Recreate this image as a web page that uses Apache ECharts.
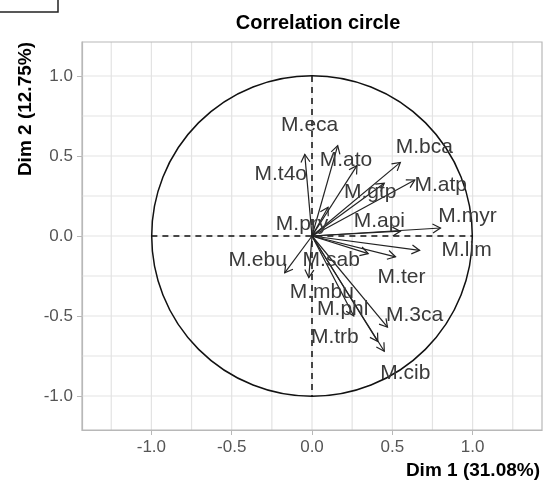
<!DOCTYPE html>
<html>
<head>
<meta charset="utf-8">
<script src="https://cdn.jsdelivr.net/npm/echarts@6/dist/echarts.min.js"></script>
<style>
  html, body { margin: 0; padding: 0; background: #fff; }
  #chart { width: 544px; height: 490px; }
</style>
</head>
<body>
<div id="chart"></div>
<script>
// variables du cercle des corrélations
var varNames = ["M.eca", "M.t4o", "M.ato", "M.bca", "M.gtp", "M.atp", "M.pry", "M.api", "M.myr",
                "M.lim", "M.ebu", "M.sab", "M.ter", "M.mbu", "M.phl", "M.3ca", "M.trb", "M.cib"];
var dim1 = [0.16, -0.045, 0.28, 0.55, 0.45, 0.64, 0.10, 0.55, 0.80,
            0.67, -0.17, 0.35, 0.52, -0.02, 0.26, 0.47, 0.41, 0.45];
var dim2 = [0.565, 0.51, 0.44, 0.46, 0.33, 0.35, 0.18, 0.03, 0.05,
            -0.09, -0.23, -0.11, -0.13, -0.26, -0.50, -0.57, -0.66, -0.72];

// graduations
var tickValues = [-1.0, -0.5, 0.0, 0.5, 1.0];
var gridValues = [-1.25, -1.0, -0.75, -0.5, -0.25, 0, 0.25, 0.5, 0.75, 1.0, 1.25];

// décalage des étiquettes (px) par rapport à la pointe, façon ggrepel
var labelShift = {
  "M.eca": [-28, -20], "M.t4o": [-24, 20], "M.ato": [-11, -5], "M.bca": [24, -15],
  "M.gtp": [-14, 9], "M.atp": [26, 5], "M.pry": [-26, 17], "M.api": [-21, -10],
  "M.myr": [27, -12], "M.lim": [47, 0], "M.ebu": [-27, -13], "M.sab": [-37, 7],
  "M.ter": [6, 20], "M.mbu": [13, 15], "M.phl": [-11, -7], "M.3ca": [27, -12],
  "M.trb": [-43, -4], "M.cib": [21, 22]
};

var X_MAX = 1.432, Y_MAX = 1.2125;
var GRID_C = "#e3e3e3";
var FONT = "Liberation Sans";

var arrows = varNames.map(function (n, i) { return [dim1[i], dim2[i], n]; });

var chart = echarts.init(document.getElementById("chart"));

chart.setOption({
  animation: false,
  title: {
    text: "Correlation circle",
    left: 313, top: 8, textAlign: "center",
    textStyle: { fontFamily: FONT, fontSize: 20, fontWeight: "bold", color: "#000" }
  },
  grid: { left: 82, right: 2, top: 42, bottom: 60 },
  xAxis: {
    type: "value", min: -X_MAX, max: X_MAX,
    name: "Dim 1 (31.08%)", nameLocation: "end", nameGap: 0,
    nameTextStyle: { fontFamily: FONT, fontSize: 19, fontWeight: "bold", color: "#000",
                     align: "right", verticalAlign: "top", padding: [31, 2, 0, 0] },
    axisLine: { show: true, onZero: false, lineStyle: { color: "#b8b8b8", width: 1.2 } },
    axisTick: { show: true, length: 5, customValues: tickValues, lineStyle: { color: "#b8b8b8" } },
    axisLabel: { customValues: tickValues, margin: 9, color: "#555", fontSize: 17, fontFamily: FONT,
                 formatter: function (v) { return v.toFixed(1); } },
    splitLine: { show: false }
  },
  yAxis: {
    type: "value", min: -Y_MAX, max: Y_MAX,
    name: "Dim 2 (12.75%)", nameLocation: "end", nameRotate: 90, nameGap: 0,
    nameTextStyle: { fontFamily: FONT, fontSize: 19, fontWeight: "bold", color: "#000",
                     align: "right", verticalAlign: "bottom", padding: [0, 0, 47, 0] },
    axisLine: { show: true, onZero: false, lineStyle: { color: "#b8b8b8", width: 1.2 } },
    axisTick: { show: true, length: 5, customValues: tickValues, lineStyle: { color: "#b8b8b8" } },
    axisLabel: { customValues: tickValues, margin: 9, color: "#555", fontSize: 17, fontFamily: FONT,
                 formatter: function (v) { return v.toFixed(1); } },
    splitLine: { show: false }
  },
  graphic: [
    // petit cadre résiduel en haut à gauche
    { type: "polyline", shape: { points: [[0, 12], [58, 12], [58, 0]] },
      style: { stroke: "#222", lineWidth: 1.5, fill: null } }
  ],
  series: [
    {
      // quadrillage + cadre du panneau
      type: "custom", silent: true, z: 1,
      data: [0],
      renderItem: function (params, api) {
        var kids = [];
        gridValues.forEach(function (v) {
          var a = api.coord([v, -Y_MAX]), b = api.coord([v, Y_MAX]);
          kids.push({ type: "line", shape: { x1: a[0], y1: a[1], x2: b[0], y2: b[1] },
                      style: { stroke: GRID_C, lineWidth: 1.2 } });
          var c = api.coord([-X_MAX, v]), d = api.coord([X_MAX, v]);
          if (Math.abs(v) < Y_MAX)
            kids.push({ type: "line", shape: { x1: c[0], y1: c[1], x2: d[0], y2: d[1] },
                        style: { stroke: GRID_C, lineWidth: 1.2 } });
        });
        var tl = api.coord([-X_MAX, Y_MAX]), br = api.coord([X_MAX, -Y_MAX]);
        kids.push({ type: "rect", shape: { x: tl[0], y: tl[1], width: br[0] - tl[0], height: br[1] - tl[1] },
                    style: { stroke: "#b8b8b8", fill: null, lineWidth: 1.2 } });
        return { type: "group", children: kids };
      }
    },
    {
      // cercle unité et axes en pointillés
      type: "custom", silent: true, z: 2,
      data: [0],
      renderItem: function (params, api) {
        var c = api.coord([0, 0]);
        var r = api.size([1, 1]);
        var l = api.coord([-1, 0]), rr = api.coord([1, 0]);
        var t = api.coord([0, 1]), b = api.coord([0, -1]);
        return { type: "group", children: [
          { type: "circle", shape: { cx: c[0], cy: c[1], r: (r[0] + r[1]) / 2 },
            style: { stroke: "#111", fill: null, lineWidth: 1.5 } },
          { type: "line", shape: { x1: l[0], y1: l[1], x2: rr[0], y2: rr[1] },
            style: { stroke: "#111", lineWidth: 1.5, lineDash: [6, 5] } },
          { type: "line", shape: { x1: t[0], y1: t[1], x2: b[0], y2: b[1] },
            style: { stroke: "#111", lineWidth: 1.5, lineDash: [6, 5] } }
        ] };
      }
    },
    {
      // flèches des variables
      type: "custom", silent: true, z: 3,
      data: arrows,
      renderItem: function (params, api) {
        var o = api.coord([0, 0]);
        var p = api.coord([api.value(0), api.value(1)]);
        var ang = Math.atan2(p[1] - o[1], p[0] - o[0]);
        var L = 9, A = Math.PI / 6;
        var h1 = [p[0] - L * Math.cos(ang - A), p[1] - L * Math.sin(ang - A)];
        var h2 = [p[0] - L * Math.cos(ang + A), p[1] - L * Math.sin(ang + A)];
        var name = varNames[params.dataIndex];
        var s = labelShift[name] || [0, 0];
        return { type: "group", children: [
          { type: "line", shape: { x1: o[0], y1: o[1], x2: p[0], y2: p[1] },
            style: { stroke: "#222", lineWidth: 1.2 } },
          { type: "polyline", shape: { points: [h1, p, h2] },
            style: { stroke: "#222", lineWidth: 1.2, fill: null } },
          { type: "text", z2: 10,
            style: { x: p[0] + s[0], y: p[1] + s[1], text: name, fill: "#3a3a3a",
                     font: "21px '" + FONT + "'", align: "center", verticalAlign: "middle" } }
        ] };
      }
    }
  ]
});
</script>
</body>
</html>
